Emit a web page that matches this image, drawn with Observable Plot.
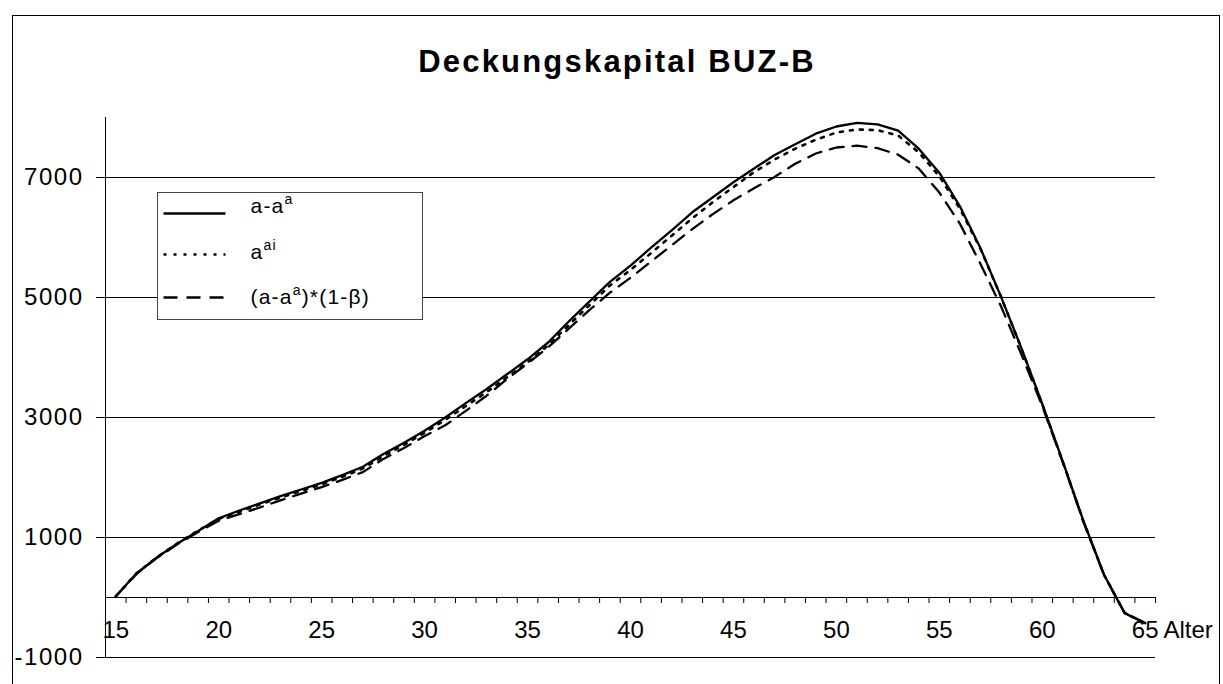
<!DOCTYPE html>
<html>
<head>
<meta charset="utf-8">
<script src="https://cdn.jsdelivr.net/npm/d3@7"></script>
<script src="https://cdn.jsdelivr.net/npm/@observablehq/plot@0.6"></script>
<style>
  body { margin: 0; background: #fff; }
  #wrap { position: relative; width: 1223px; height: 684px; overflow: hidden; background: #fff; }
  #wrap svg { position: absolute; left: 0; top: 0; }
  #border { position: absolute; left: 12px; top: 15px; width: 1208px; height: 720px; border: 1px solid #000; box-sizing: border-box; pointer-events: none; }
</style>
</head>
<body>
<div id="wrap"><div id="border"></div></div>
<script>
// ---- data ----
const title = "Deckungskapital BUZ-B";
const xAxisLabel = "Alter";
const ages = [15,16,17,18,19,20,21,22,23,24,25,26,27,28,29,30,31,32,33,34,35,36,37,38,39,40,
              41,42,43,44,45,46,47,48,49,50,51,52,53,54,55,56,57,58,59,60,61,62,63,64,65];
const valuesSolid = [20,400,670,900,1110,1320,1450,1570,1690,1800,1910,2040,2180,2390,2580,2780,3000,3240,3470,3720,3970,4250,4600,4930,5260,5530,
                     5830,6120,6420,6670,6920,7150,7375,7555,7730,7850,7910,7885,7780,7480,7080,6520,5820,5010,4145,3225,2265,1275,380,-260,-430];
const valuesDotted = [20,400,670,905,1115,1310,1430,1550,1665,1775,1885,2010,2150,2355,2545,2745,2960,3190,3420,3670,3920,4200,4540,4870,5200,5460,
                      5740,6030,6320,6590,6840,7090,7300,7480,7630,7750,7800,7790,7700,7420,7020,6480,5810,5010,4140,3220,2260,1270,378,-258,-428];
const valuesDashed = [20,390,660,890,1090,1280,1390,1500,1620,1730,1840,1960,2090,2310,2490,2690,2870,3110,3360,3640,3900,4170,4480,4790,5080,5330,
                      5600,5870,6140,6390,6620,6820,7010,7230,7400,7500,7530,7490,7380,7150,6750,6230,5560,4850,4040,3190,2250,1260,375,-255,-425];
const yTicks = [-1000, 1000, 3000, 5000, 7000];
const xLabels = [15, 20, 25, 30, 35, 40, 45, 50, 55, 60, 65];

// ---- derived tables ----
const toRows = vals => ages.map((a, i) => ({age: a, value: vals[i]}));
const rowsSolid = toRows(valuesSolid);
const rowsDotted = toRows(valuesDotted);
const rowsDashed = toRows(valuesDashed);
const tickBounds = ages.map(a => a + 0.5);

const FONT = "'Liberation Sans', Arial, Helvetica, sans-serif";
const styles = [
  {dash: null, width: 2.3},
  {dash: "3,7", width: 2.6},
  {dash: "14,9", width: 2.3}
];

function decorations(index, scales, values, dims) {
  const g = d3.create("svg:g").attr("font-family", FONT).attr("fill", "#000").attr("text-anchor", "start");
  // title
  g.append("text")
    .attr("x", 617).attr("y", 71.5)
    .attr("text-anchor", "middle")
    .attr("font-size", 31).attr("font-weight", "bold")
    .attr("letter-spacing", "2.2px")
    .text(title);
  // legend
  const lx = dims.marginLeft + 52.5, ly = 192.5;
  g.append("rect").attr("x", lx).attr("y", ly).attr("width", 265).attr("height", 127)
    .attr("fill", "#fff").attr("stroke", "#444").attr("stroke-width", 1);
  const rowsY = [213.5, 254.5, 297.5];
  const baseY = [213, 259, 304];
  rowsY.forEach((yy, i) => {
    const ln = g.append("line").attr("x1", lx + 6).attr("x2", lx + 68).attr("y1", yy).attr("y2", yy)
      .attr("stroke", "#000").attr("stroke-width", styles[i].width);
    if (styles[i].dash) ln.attr("stroke-dasharray", styles[i].dash);
  });
  const tx = lx + 93;
  const mk = (i) => g.append("text").attr("x", tx).attr("y", baseY[i]).attr("text-anchor", "start")
    .attr("font-size", 21).attr("letter-spacing", "1.2px");
  const t0 = mk(0);
  t0.append("tspan").text("a-a");
  t0.append("tspan").attr("dy", -9).attr("font-size", 14).text("a");
  const t1 = mk(1);
  t1.append("tspan").text("a");
  t1.append("tspan").attr("dy", -9).attr("font-size", 14).text("ai");
  const t2 = mk(2);
  t2.append("tspan").text("(a-a");
  t2.append("tspan").attr("dy", -9).attr("font-size", 14).text("a");
  t2.append("tspan").attr("dy", 9).text(")*(1-β)");
  return g.node();
}

const plot = Plot.plot({
  width: 1223,
  height: 684,
  marginLeft: 105,
  marginRight: 68,
  marginTop: 117,
  marginBottom: 27,
  style: {fontFamily: FONT, background: "transparent", color: "#000", overflow: "visible"},
  x: {domain: [14.5, 65.5], axis: null},
  y: {domain: [-1000, 8000]},
  marks: [
    Plot.ruleY(yTicks, {stroke: "#000", strokeWidth: 1}),
    Plot.ruleY([0], {stroke: "#000", strokeWidth: 1}),
    Plot.ruleX([14.5], {stroke: "#000", strokeWidth: 1}),
    Plot.axisY({ticks: yTicks, tickSize: 9, tickPadding: 13, fontSize: 24, label: null, tickFormat: d => String(d)}),
    Plot.ruleX(tickBounds, {x: d => d, y1: 0, y2: -100, stroke: "#000", strokeWidth: 1}),
    Plot.text(xLabels, {x: d => d, y: 0, dy: 33, fontSize: 24, fill: "#000"}),
    Plot.text([xAxisLabel], {x: 65.5, y: 0, dx: 8, dy: 33, fontSize: 24, textAnchor: "start", fill: "#000"}),
    decorations,
    Plot.line(rowsSolid, {x: "age", y: "value", stroke: "#000", strokeWidth: styles[0].width}),
    Plot.line(rowsDotted, {x: "age", y: "value", stroke: "#000", strokeWidth: styles[1].width, strokeDasharray: styles[1].dash}),
    Plot.line(rowsDashed, {x: "age", y: "value", stroke: "#000", strokeWidth: styles[2].width, strokeDasharray: styles[2].dash})
  ]
});

d3.select(plot).selectAll('g[aria-label="y-axis tick label"] text').attr("letter-spacing", "1.5px");
document.getElementById("wrap").insertBefore(plot, document.getElementById("border"));
</script>
</body>
</html>
